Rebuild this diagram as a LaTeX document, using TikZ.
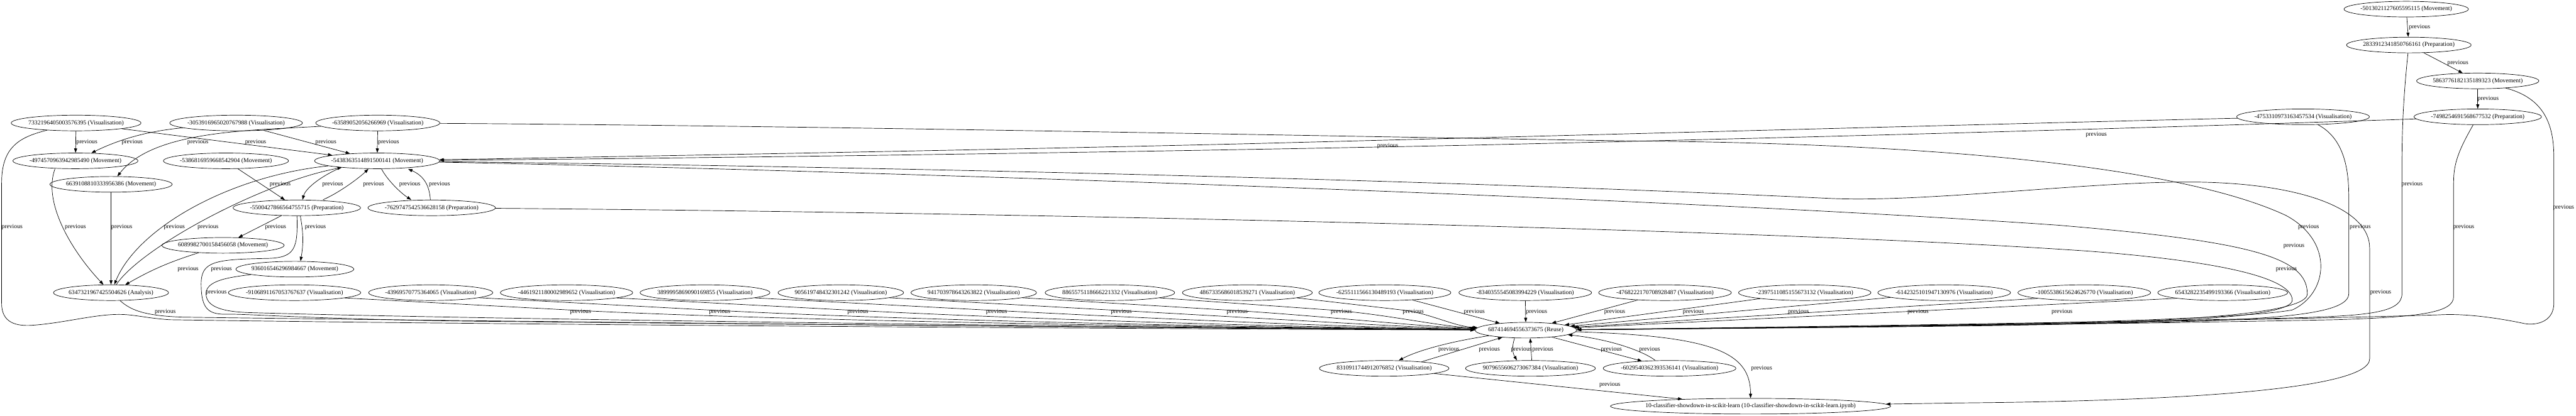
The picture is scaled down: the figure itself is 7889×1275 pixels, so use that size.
\documentclass[tikz,border=0pt]{standalone}
\usepackage{fontspec}
\setmainfont{Liberation Serif}
\usetikzlibrary{arrows.meta,shapes.geometric}
\begin{document}
\begin{tikzpicture}[x=0.75pt,y=-0.75pt,
  task/.style={draw,ellipse,line width=1pt,minimum height=36pt,inner xsep=-4pt,inner ysep=0pt,font=\fontsize{14pt}{16pt}\selectfont},
  prev/.style={line width=1pt,-{Triangle[length=10pt,width=7pt]}},
  lbl/.style={inner sep=0pt,font=\fontsize{14pt}{16pt}\selectfont}]
\useasboundingbox (0,0) rectangle (7889,1275);
\node[task] (n1) at (7369,28) {-5013021127605595115 (Movement)};
\node[task] (n2) at (7377,138) {2833912341850766161 (Preparation)};
\node[task] (n3) at (7588,248) {5863776182135189323 (Movement)};
\node[task] (n4) at (7588,358) {-7498254691568677532 (Preparation)};
\node[task] (n5) at (7053,358) {-4753310973163457534 (Visualisation)};
\node[task] (A) at (233,377) {7332196405003576395 (Visualisation)};
\node[task] (B) at (723,377) {-3053916965020767988 (Visualisation)};
\node[task] (C) at (1157,377) {-63589052056266969 (Visualisation)};
\node[task] (D) at (231,493) {-4974570963942985490 (Movement)};
\node[task] (E) at (692,493) {-5386816959668542904 (Movement)};
\node[task] (F) at (1155,493) {-5438363514891500141 (Movement)};
\node[task] (G) at (340,565) {6639108810333956386 (Movement)};
\node[task] (H) at (909,637) {-5500427866564755715 (Preparation)};
\node[task] (I) at (1322,637) {-7629747542536628158 (Preparation)};
\node[task] (J) at (683,752) {6089982700158456058 (Movement)};
\node[task] (K) at (903,825) {936016546296984667 (Movement)};
\node[task] (L) at (340,897) {6347321967425504626 (Analysis)};
\node[task] (v1) at (902,897) {-9106891167053767637 (Visualisation)};
\node[task] (v2) at (1319,897) {-43969570775364065 (Visualisation)};
\node[task] (v3) at (1735,897) {-4461921180002989652 (Visualisation)};
\node[task] (v4) at (2159,897) {3899995869090169855 (Visualisation)};
\node[task] (v5) at (2575,897) {905619748432301242 (Visualisation)};
\node[task] (v6) at (2982,897) {941703978643263822 (Visualisation)};
\node[task] (v7) at (3399,897) {8865575118666221332 (Visualisation)};
\node[task] (v8) at (3820,897) {4867335686018539271 (Visualisation)};
\node[task] (v9) at (4241,897) {-6255111566130489193 (Visualisation)};
\node[task] (v10) at (4671,897) {-8340355545083994229 (Visualisation)};
\node[task] (v11) at (5099,897) {-4768222170708928487 (Visualisation)};
\node[task] (v12) at (5527,897) {-2397511085155673132 (Visualisation)};
\node[task] (v13) at (5954,897) {-6142325101947130976 (Visualisation)};
\node[task] (v14) at (6383,897) {-1005538615624626770 (Visualisation)};
\node[task] (v15) at (6807,897) {6543282235499193366 (Visualisation)};
\node[task] (R) at (4673,1012) {687414694556373675 (Reuse)};
\node[task] (w1) at (4239,1129) {8310911744912076852 (Visualisation)};
\node[task] (w2) at (4687,1129) {9079655606273067384 (Visualisation)};
\node[task] (w3) at (5113,1129) {-6029540362393536141 (Visualisation)};
\node[task,inner xsep=-14pt] (Z) at (5361,1245) {10-classifier-showdown-in-scikit-learn (10-classifier-showdown-in-scikit-learn.ipynb)};
\draw[prev] (n1) -- (n2);
\draw[prev] (n2) -- (n3);
\draw[prev] (n3) -- (n4);
\draw[prev] (n2) .. controls (7360,300) and (7356,400) .. (7356,500) -- (7356,900) .. controls (7356,960) and (7250,968) .. (7000,975) .. controls (6300,990) and (5300,1005) .. (R);
\draw[prev] (n3) .. controls (7790,300) and (7821,380) .. (7821,480) -- (7821,930) .. controls (7821,990) and (7760,1000) .. (7723,990) .. controls (7650,975) and (7550,960) .. (7470,965) .. controls (6800,985) and (5400,1006) .. (R);
\draw[prev] (n4) .. controls (7530,460) and (7514,500) .. (7514,560) -- (7514,910) .. controls (7514,960) and (7400,972) .. (7150,980) .. controls (6400,995) and (5300,1006) .. (R);
\draw[prev] (n4) .. controls (6800,385) and (5800,415) .. (4500,445) .. controls (3300,470) and (2000,486) .. (F);
\draw[prev] (n5) .. controls (6500,370) and (5000,410) .. (3800,441) .. controls (3000,460) and (2000,478) .. (F);
\draw[prev] (n5) .. controls (7170,420) and (7193,500) .. (7193,600) -- (7193,900) .. controls (7193,960) and (7000,978) .. (6600,988) .. controls (5800,1000) and (5200,1006) .. (R);
\draw[prev] (A) -- (D);
\draw[prev] (B) .. controls (470,400) and (380,420) .. (D);
\draw[prev] (C) .. controls (760,400) and (470,400) .. (G);
\draw[prev] (A) -- (F);
\draw[prev] (B) -- (F);
\draw[prev] (C) -- (F);
\draw[prev] (A) .. controls (60,420) and (5,450) .. (5,560) -- (5,930) .. controls (5,990) and (50,1000) .. (98,997) .. controls (200,990) and (300,960) .. (379,964) .. controls (420,966) and (450,975) .. (520,980) .. controls (1500,995) and (3500,1008) .. (R);
\draw[prev] (C) .. controls (2500,385) and (4200,420) .. (5000,432) .. controls (6000,440) and (6700,520) .. (7000,660) .. controls (7150,740) and (7130,900) .. (7020,950) .. controls (6800,990) and (5600,1004) .. (R);
\draw[prev] ([xshift=-47pt]D.south) .. controls (130,620) and (220,770) .. (L);
\draw[prev] (G) -- (L);
\draw[prev] (F) .. controls (700,540) and (420,700) .. (L);
\draw[prev] (L) .. controls (430,760) and (800,560) .. (F);
\draw[prev] (E) -- (H);
\draw[prev] ([xshift=-90pt]F.south) .. controls (975,545) and (935,580) .. ([xshift=13pt]H.north);
\draw[prev] ([xshift=60pt]H.north) .. controls (1040,590) and (1100,545) .. ([xshift=-20pt]F.south);
\draw[prev] ([xshift=10pt]F.south) .. controls (1185,550) and (1225,590) .. ([xshift=-47pt]I.north);
\draw[prev] ([xshift=-3pt]I.north) .. controls (1315,570) and (1300,540) .. ([xshift=71pt]F.south);
\draw[prev] (H) -- (J);
\draw[prev] ([xshift=8pt]H.south) to[bend left=10] ([xshift=13pt]K.north);
\draw[prev] (J) to[bend right=6] (L);
\draw[prev] (H) .. controls (912,760) and (905,790) .. (820,792) .. controls (660,795) and (616,800) .. (616,870) .. controls (616,950) and (640,965) .. (700,963) .. controls (760,962) and (1000,980) .. (1500,985) .. controls (2500,995) and (3800,1006) .. (R);
\draw[prev] (K) .. controls (700,850) and (631,860) .. (631,900) .. controls (631,940) and (680,955) .. (760,958) .. controls (1500,980) and (3600,1004) .. (R);
\draw[prev] (L) .. controls (400,950) and (440,968) .. (560,972) .. controls (1500,985) and (3500,1005) .. (R);
\draw[prev] (F) .. controls (2500,520) and (5000,600) .. (6300,690) .. controls (6900,740) and (7066,790) .. (7066,900) .. controls (7070,960) and (6700,985) .. (6200,995) .. controls (5600,1003) and (5100,1008) .. (R);
\draw[prev] (F) .. controls (3000,515) and (4600,560) .. (5600,608) .. controls (5900,622) and (6400,555) .. (6724,558) .. controls (7050,562) and (7257,640) .. (7257,760) -- (7257,1100) .. controls (7257,1200) and (6600,1230) .. (6000,1235) -- (Z);
\draw[prev] (I) .. controls (3000,650) and (5400,700) .. (6400,770) .. controls (6850,805) and (7020,860) .. (7020,920) .. controls (7020,975) and (6600,990) .. (6100,998) .. controls (5600,1005) and (5100,1008) .. (R);
\draw[prev] (v1.-6) -- (1743,950) .. controls (2343,982) and (3645,1003) .. (R);
\draw[prev] (v2.-6) -- (2169,950) .. controls (2769,982) and (3815,1003) .. (R);
\draw[prev] (v3.-6) -- (2592,950) .. controls (3192,981) and (3985,1003) .. (R);
\draw[prev] (v4.-6) -- (3017,950) .. controls (3617,981) and (4155,1003) .. (R);
\draw[prev] (v5.-6) -- (3399,950) .. controls (3999,983) and (4307,1003) .. (R);
\draw[prev] (v6.-6) -- (3754,950) .. controls (4054,968) and (4329,1000) .. (R);
\draw[prev] (v7.-6) -- (4073,950) .. controls (4250,963) and (4400,1000) .. (R);
\draw[prev] (v8.-6) -- (4293,950) .. controls (4380,960) and (4450,1000) .. (R);
\draw[prev] (v9) -- (R);
\draw[prev] (v10) -- (R);
\draw[prev] (v11) -- (R);
\draw[prev] (v12) -- (R);
\draw[prev] (v13) -- (R);
\draw[prev] (v14.-173) -- (R);
\draw[prev] (v15.-173) -- (R);
\draw[prev] (R) .. controls (4420,1050) and (4330,1080) .. (w1);
\draw[prev] (w1.10) -- (R);
\draw[prev] ([xshift=-26pt]R.south) to[bend right=25] ([xshift=-31pt]w2.north);
\draw[prev] ([xshift=3pt]w2.north) -- ([xshift=10pt]R.south);
\draw[prev] (R) -- (w3);
\draw[prev] ([xshift=-33pt]w3.north) .. controls (5030,1075) and (4930,1040) .. (R);
\draw[prev] (R) .. controls (5250,1030) and (5361,1080) .. (Z);
\draw[prev] (w1) -- (Z);
\node[lbl] (p1) at (7410,83) {previous};
\node[lbl] (p2) at (7527,193) {previous};
\node[lbl] (p3) at (7620,303) {previous};
\node[lbl] (p4) at (7387,565) {previous};
\node[lbl] (p5) at (7851,637) {previous};
\node[lbl] (p6) at (7545,695) {previous};
\node[lbl] (p7) at (6420,413) {previous};
\node[lbl] (p8) at (4250,448) {previous};
\node[lbl] (p9) at (7228,695) {previous};
\node[lbl] (p10) at (266,435) {previous};
\node[lbl] (p11) at (405,435) {previous};
\node[lbl] (p12) at (606,435) {previous};
\node[lbl] (p13) at (783,435) {previous};
\node[lbl] (p14) at (998,435) {previous};
\node[lbl] (p15) at (1190,435) {previous};
\node[lbl] (p16) at (37,695) {previous};
\node[lbl] (p17) at (7070,695) {previous};
\node[lbl] (p18) at (231,695) {previous};
\node[lbl] (p19) at (373,695) {previous};
\node[lbl] (p20) at (534,695) {previous};
\node[lbl] (p21) at (637,695) {previous};
\node[lbl] (p22) at (858,565) {previous};
\node[lbl] (p23) at (1019,565) {previous};
\node[lbl] (p24) at (1144,565) {previous};
\node[lbl] (p25) at (1255,565) {previous};
\node[lbl] (p26) at (1346,565) {previous};
\node[lbl] (p27) at (844,695) {previous};
\node[lbl] (p28) at (966,695) {previous};
\node[lbl] (p29) at (576,825) {previous};
\node[lbl] (p30) at (678,825) {previous};
\node[lbl] (p31) at (662,897) {previous};
\node[lbl] (p32) at (506,955) {previous};
\node[lbl] (p33) at (7025,753) {previous};
\node[lbl] (p34) at (7291,897) {previous};
\node[lbl] (p35) at (7002,825) {previous};
\node[lbl] (p36) at (1778,955) {previous};
\node[lbl] (p37) at (2204,955) {previous};
\node[lbl] (p38) at (2627,955) {previous};
\node[lbl] (p39) at (3052,955) {previous};
\node[lbl] (p40) at (3434,955) {previous};
\node[lbl] (p41) at (3789,955) {previous};
\node[lbl] (p42) at (4108,955) {previous};
\node[lbl] (p43) at (4328,955) {previous};
\node[lbl] (p44) at (4515,955) {previous};
\node[lbl] (p45) at (4706,955) {previous};
\node[lbl] (p46) at (4945,955) {previous};
\node[lbl] (p47) at (5186,955) {previous};
\node[lbl] (p48) at (5508,955) {previous};
\node[lbl] (p49) at (5874,955) {previous};
\node[lbl] (p50) at (6315,955) {previous};
\node[lbl] (p51) at (4437,1071) {previous};
\node[lbl] (p52) at (4561,1071) {previous};
\node[lbl] (p53) at (4659,1071) {previous};
\node[lbl] (p54) at (4725,1071) {previous};
\node[lbl] (p55) at (4935,1071) {previous};
\node[lbl] (p56) at (5052,1071) {previous};
\node[lbl] (p57) at (5395,1129) {previous};
\node[lbl] (p58) at (4930,1180) {previous};
\end{tikzpicture}
\end{document}
